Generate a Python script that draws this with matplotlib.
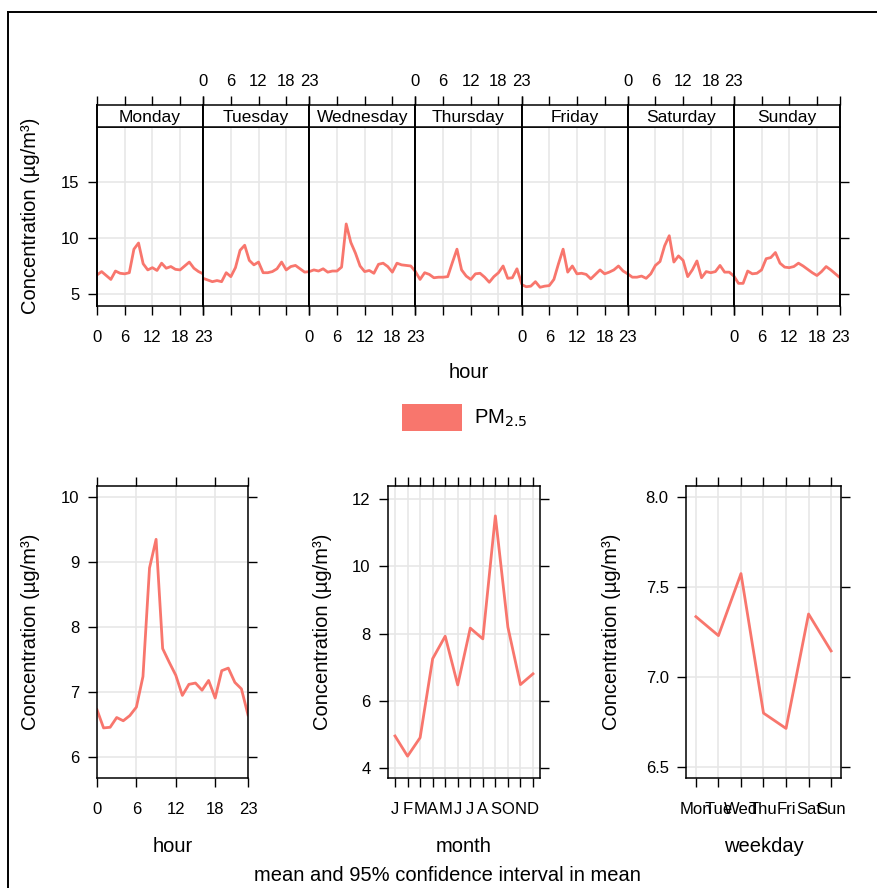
import matplotlib.pyplot as plt
import numpy as np

plt.rcParams['font.family'] = ['Liberation Sans', 'DejaVu Sans']

W, H = 878, 888

days = ['Monday', 'Tuesday', 'Wednesday', 'Thursday', 'Friday', 'Saturday', 'Sunday']
hours = np.arange(24)

# mean PM2.5 by hour for each weekday
mon = [6.7, 7.0, 6.65, 6.3, 7.05, 6.85, 6.8, 6.9, 9.0, 9.55, 7.7, 7.15,
       7.35, 7.1, 7.75, 7.3, 7.45, 7.2, 7.15, 7.5, 7.85, 7.3, 7.0, 6.8]
tue = [6.4, 6.25, 6.1, 6.2, 6.1, 6.9, 6.55, 7.35, 8.9, 9.35, 8.0, 7.6,
       7.85, 6.9, 6.9, 7.0, 7.25, 7.85, 7.15, 7.45, 7.55, 7.25, 6.95, 7.0]
wed = [7.0, 7.15, 7.05, 7.25, 6.95, 7.05, 7.05, 7.4, 11.25, 9.6, 8.65, 7.5,
       7.0, 7.1, 6.85, 7.65, 7.75, 7.45, 6.95, 7.75, 7.6, 7.55, 7.5, 7.0]
thu = [7.0, 6.3, 6.9, 6.75, 6.45, 6.5, 6.5, 6.55, 7.8, 9.0, 7.15, 6.6,
       6.3, 6.8, 6.85, 6.5, 6.05, 6.55, 6.9, 7.5, 6.4, 6.45, 7.25, 5.95]
fri = [5.85, 5.65, 5.7, 6.1, 5.6, 5.7, 5.75, 6.3, 7.7, 9.0, 6.95, 7.5,
       6.8, 6.85, 6.75, 6.35, 6.75, 7.15, 6.8, 6.95, 7.15, 7.5, 7.05, 6.8]
sat = [6.8, 6.5, 6.5, 6.6, 6.4, 6.8, 7.55, 7.9, 9.3, 10.2, 7.85, 8.4,
       8.0, 6.55, 7.15, 7.95, 6.45, 7.0, 6.9, 7.0, 7.55, 6.95, 6.95, 6.6]
sun = [6.6, 5.95, 5.95, 7.05, 6.8, 6.85, 7.15, 8.15, 8.25, 8.7, 7.75, 7.4,
       7.35, 7.45, 7.75, 7.5, 7.2, 6.9, 6.65, 7.0, 7.45, 7.15, 6.8, 6.45]
day_hour = [mon, tue, wed, thu, fri, sat, sun]

hour_vals = [6.73, 6.45, 6.46, 6.61, 6.56, 6.64, 6.77, 7.24, 8.91, 9.35, 7.67, 7.46,
             7.26, 6.95, 7.12, 7.14, 7.03, 7.18, 6.91, 7.33, 7.37, 7.15, 7.05, 6.65]

months = np.arange(1, 13)
month_labels = ['J', 'F', 'M', 'A', 'M', 'J', 'J', 'A', 'S', 'O', 'N', 'D']
month_vals = [4.95, 4.35, 4.9, 7.25, 7.92, 6.47, 8.16, 7.84, 11.5, 8.19, 6.48, 6.8]

wdays = np.arange(1, 8)
wday_labels = ['Mon', 'Tue', 'Wed', 'Thu', 'Fri', 'Sat', 'Sun']
wday_vals = [7.335, 7.23, 7.574, 6.80, 6.715, 7.35, 7.145]

col = '#F8766D'
gcol = '#E6E6E6'
ylab = 'Concentration (\u00b5g/m\u00b3)'
TICK = 12
LAB = 14.5


def rect(x0, y0, x1, y1):
    return [x0 / W, 1 - y1 / H, (x1 - x0) / W, (y1 - y0) / H]


def style(ax):
    for s in ax.spines.values():
        s.set_linewidth(1.1)
    ax.tick_params(direction='out', length=6.5, width=1.0, labelsize=TICK)


fig = plt.figure(figsize=(W / 100, H / 100), dpi=100)

# frame
fig.add_artist(plt.Line2D([8 / W, 8 / W], [0, 1 - 12 / H], transform=fig.transFigure, color='k', lw=1.4))
fig.add_artist(plt.Line2D([8 / W, 1], [1 - 12 / H, 1 - 12 / H], transform=fig.transFigure, color='k', lw=1.4))

# top: day x hour panels
pw = (840 - 97) / 7
for i, d in enumerate(days):
    x0 = 97 + i * pw
    ax = fig.add_axes(rect(x0, 127, x0 + pw, 306))
    ax.plot(hours, day_hour[i], color=col, lw=2)
    ax.set_xlim(0, 23)
    ax.set_ylim(3.93, 19.9)
    ax.set_xticks([0, 6, 12, 18, 23])
    ax.set_yticks([5, 10, 15])
    ax.grid(True, color=gcol, lw=1.1)
    ax.set_axisbelow(True)
    style(ax)
    ax.tick_params(axis='x', pad=11, labelbottom=(i % 2 == 0))
    ax.tick_params(axis='y', pad=6, left=(i == 0), labelleft=(i == 0), right=(i == 6))
    for s in ['left', 'right']:
        ax.spines[s].set_linewidth(1.4)

    st = fig.add_axes(rect(x0, 105, x0 + pw, 127))
    st.set_xlim(0, 23)
    st.set_yticks([])
    st.set_xticks([0, 6, 12, 18, 23])
    style(st)
    st.tick_params(axis='x', top=True, bottom=False, labelbottom=False,
                   labeltop=(i % 2 == 1), pad=5)
    for s in ['left', 'right']:
        st.spines[s].set_linewidth(1.4)
    st.text(0.5, 0.42, d, transform=st.transAxes, ha='center', va='center', fontsize=12.5)

fig.text(31 / W, 1 - 216 / H, ylab, rotation=90, ha='center', va='center', fontsize=LAB)
fig.text(469 / W, 1 - 372 / H, 'hour', ha='center', va='center', fontsize=LAB)

# legend
fig.patches.append(plt.Rectangle((402 / W, 1 - 431 / H), 60 / W, 27 / H,
                                 transform=fig.transFigure, color=col, ec='none'))
fig.text(474 / W, 1 - 418 / H, 'PM$_{2.5}$', ha='left', va='center', fontsize=14.5)

# bottom panels
def bottom(x0, x1, x, y, xlim, ylim, xt, xtl, yt, ytl, xl, ylx):
    ax = fig.add_axes(rect(x0, 486, x1, 778))
    ax.plot(x, y, color=col, lw=2)
    ax.set_xlim(*xlim)
    ax.set_ylim(*ylim)
    ax.set_xticks(xt)
    ax.set_xticklabels(xtl)
    ax.set_yticks(yt)
    ax.set_yticklabels(ytl)
    ax.grid(True, color=gcol, lw=1.1)
    ax.set_axisbelow(True)
    style(ax)
    ax.tick_params(top=True, right=True)
    ax.tick_params(axis='x', pad=11)
    ax.tick_params(axis='y', pad=6)
    fig.text((x0 + x1) / 2 / W, 1 - 846 / H, xl, ha='center', va='center', fontsize=LAB)
    fig.text(ylx / W, 1 - 632 / H, ylab, rotation=90, ha='center', va='center', fontsize=LAB)
    return ax


bottom(97, 248, hours, hour_vals, (0, 23), (5.68, 10.17),
       [0, 6, 12, 18, 23], ['0', '6', '12', '18', '23'],
       [6, 7, 8, 9, 10], ['6', '7', '8', '9', '10'], 'hour', 31)
bottom(388, 540, months, month_vals, (0.44, 12.56), (3.7, 12.39),
       months, month_labels, [4, 6, 8, 10, 12], ['4', '6', '8', '10', '12'], 'month', 322)
bottom(686, 841, wdays, wday_vals, (0.56, 7.44), (6.44, 8.06),
       wdays, wday_labels, [6.5, 7.0, 7.5, 8.0], ['6.5', '7.0', '7.5', '8.0'], 'weekday', 612)

fig.text(447 / W, 1 - 875 / H, 'mean and 95% confidence interval in mean',
         ha='center', va='center', fontsize=LAB)

fig.savefig('out.png', dpi=100)
